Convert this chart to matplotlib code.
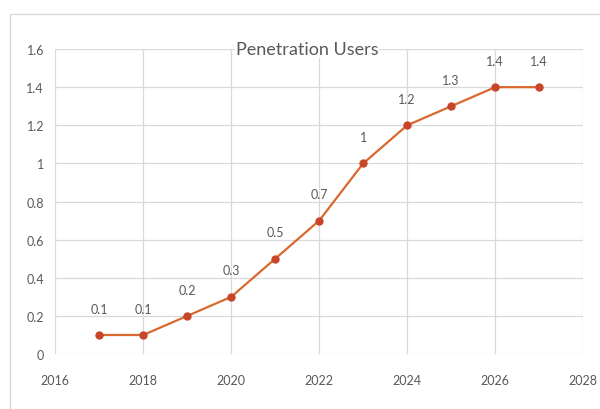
import matplotlib.pyplot as plt
from matplotlib.patches import Rectangle
from matplotlib.ticker import FuncFormatter

plt.rcParams['font.family'] = ['Lato', 'DejaVu Sans']

years = [2017, 2018, 2019, 2020, 2021, 2022, 2023, 2024, 2025, 2026, 2027]
users = [0.1, 0.1, 0.2, 0.3, 0.5, 0.7, 1.0, 1.2, 1.3, 1.4, 1.4]

txt = '#595959'
line_col = '#d9692f'
dot_col = '#c8452a'

fig = plt.figure(figsize=(6, 4.1), dpi=100)
ax = fig.add_axes([0.092, 0.134, 0.88, 0.744])

# chart frame
fig.patches.append(Rectangle((0.016, -0.1), 1.2, 1.064, transform=fig.transFigure,
                             fill=False, edgecolor='#d9d9d9', linewidth=1))

ax.plot(years, users, color=line_col, linewidth=1.6, marker='o', markersize=5,
        markerfacecolor=dot_col, markeredgecolor=dot_col, zorder=3)

for x, y in zip(years, users):
    ax.annotate(f'{y:g}', (x, y), xytext=(0, 19), textcoords='offset points',
                ha='center', va='center', fontsize=9, color=txt)

ax.set_xlim(2016, 2028)
ax.set_ylim(0, 1.6)
ax.set_xticks(range(2016, 2029, 2))
ax.set_yticks([0, 0.2, 0.4, 0.6, 0.8, 1.0, 1.2, 1.4, 1.6])
ax.yaxis.set_major_formatter(FuncFormatter(lambda v, p: f'{v:g}'))
ax.grid(True, color='#d9d9d9', linewidth=0.9)
ax.set_axisbelow(True)
for s in ax.spines.values():
    s.set_visible(False)
ax.tick_params(axis='both', length=0, labelsize=9, colors=txt)
ax.tick_params(axis='x', pad=14)
ax.tick_params(axis='y', pad=8)

ax.text(307 / 600, 1 - 50 / 410, 'Penetration Users', transform=fig.transFigure,
        ha='center', va='center', fontsize=13, color=txt,
        bbox=dict(facecolor='white', edgecolor='none', pad=0.5))

fig.savefig('out.png', dpi=100)
